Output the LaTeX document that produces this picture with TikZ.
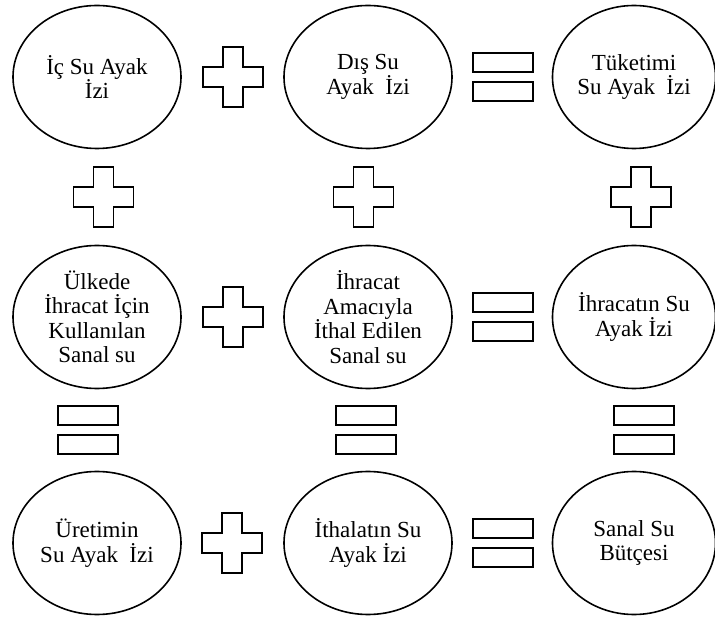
\documentclass[tikz,border=0pt]{standalone}
\usepackage{fontspec}
\setmainfont{Liberation Serif}
\usetikzlibrary{shapes.geometric}
\begin{document}
\begin{tikzpicture}[x=1pt,y=-1pt,
  oval/.style={draw, ellipse, line width=1.6pt, minimum width=168pt, minimum height=143pt,
    inner sep=0pt, outer sep=0pt, align=center, font=\fontsize{23}{24.5}\selectfont},
  narrow/.style={minimum width=163pt},
  plussign/.pic={\draw[line width=1.5pt, line join=miter]
    (-10,-30) -- (10,-30) -- (10,-10) -- (30,-10) -- (30,10) -- (10,10) -- (10,30)
    -- (-10,30) -- (-10,10) -- (-30,10) -- (-30,-10) -- (-10,-10) -- cycle;},
  eqsign/.pic={\draw[line width=1.5pt] (-30,-24) rectangle (30,-5) (-30,5) rectangle (30,24);}
]
\useasboundingbox (0,0) rectangle (715,617);

% row 1
\node[oval] (ic) at (97,77) {İç Su Ayak\\İzi};
\node[oval] (dis) at (368,77) {Dış Su\\Ayak\ \ İzi};
\node[oval,narrow] (tuk) at (634,77) {Tüketimi\\Su Ayak\ \ İzi};
% row 2
\node[oval] (ulk) at (97,317) {Ülkede\\İhracat İçin\\Kullanılan\\Sanal su};
\node[oval] (ihr) at (368,317) {İhracat\\Amacıyla\\İthal Edilen\\Sanal su};
\node[oval,narrow] (ihs) at (634,317) {İhracatın Su\\Ayak İzi};
% row 3
\node[oval] (ure) at (97,543) {Üretimin\\Su Ayak\ \ İzi};
\node[oval] (ith) at (368,543) {İthalatın Su\\Ayak İzi};
\node[oval,narrow] (san) at (634,543) {Sanal Su\\Bütçesi};

% horizontal operators
\pic (p1) at (233,77) {plussign};
\pic (e1) at (503,77) {eqsign};
\pic (p2) at (233,317) {plussign};
\pic (e2) at (503,317) {eqsign};
\pic (p3) at (232,543) {plussign};
\pic (e3) at (503,543) {eqsign};

% vertical operators
\pic (v1) at (103.5,197) {plussign};
\pic (v2) at (363.5,197) {plussign};
\pic (v3) at (641,197) {plussign};
\pic (w1) at (88,430) {eqsign};
\pic (w2) at (366,430) {eqsign};
\pic (w3) at (644,430) {eqsign};
\end{tikzpicture}
\end{document}
